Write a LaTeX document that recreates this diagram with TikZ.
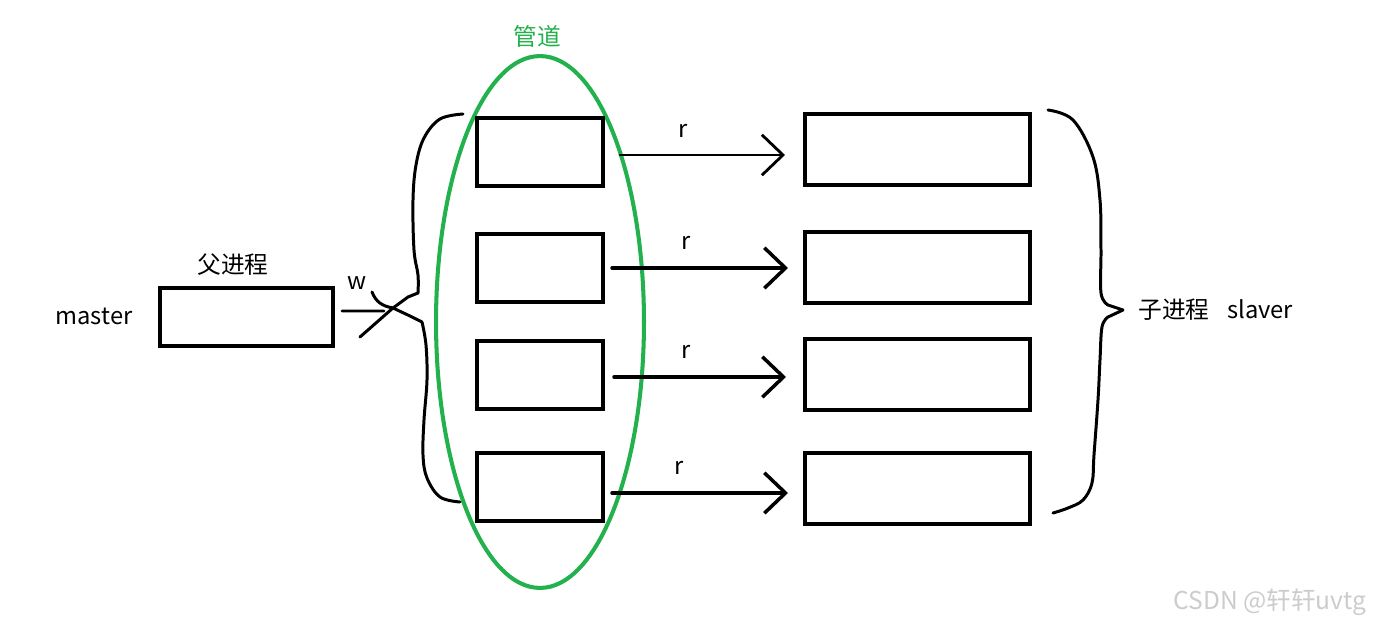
\documentclass[tikz,border=0pt]{standalone}
\usepackage{fontspec}
\setmainfont{Noto Sans CJK SC}
\usetikzlibrary{arrows.meta,shapes.geometric}

\definecolor{pipegreen}{RGB}{34,177,76}

\tikzset{
  box/.style={draw,line width=2.3pt,minimum width=2.52cm,minimum height=1.36cm,inner sep=0pt},
  wide/.style={box,minimum width=4.5cm,minimum height=1.42cm},
  hand/.style={line width=1.7pt,line cap=round,line join=round},
  rarrow/.style={hand,-{Straight Barb[length=12pt,width=23pt]}},
  lbl/.style={font=\fontsize{13.5}{16}\selectfont,inner sep=0pt}
}

\begin{document}
\begin{tikzpicture}[x=0.02cm,y=-0.02cm]
  \useasboundingbox (0,0) rectangle (1374,625);
  % parent side
  \node[box,minimum width=3.46cm,minimum height=1.16cm] (m) at (246.5,317) {};
  \node[lbl] (mname) at (94,316) {master};
  \node[lbl] (parent) at (233,265) {父进程};
  \node[lbl] (w) at (357,283) {w};
  % pipe
  \node[draw=pipegreen,ellipse,line width=2.3pt,minimum width=4.16cm,minimum height=10.64cm] (pipe) at (540,322) {};
  \node[lbl,text=pipegreen] (pipename) at (537,36) {管道};
  \node[box] (p1) at (540,152) {};
  \node[box] (p2) at (540,268) {};
  \node[box] (p3) at (540,375) {};
  \node[box] (p4) at (540,487) {};
  % children
  \node[wide] (c1) at (917.5,149.5) {};
  \node[wide] (c2) at (917.5,267.5) {};
  \node[wide] (c3) at (917.5,374.5) {};
  \node[wide] (c4) at (917.5,488.5) {};
  \foreach \i/\a/\b/\dy/\lw/\p in {1/0.3/0.36/0.06/1.6pt/0.38, 2/0.14/0.3/0/2pt/0.42, 3/0.18/0.34/0.04/2pt/0.42, 4/0.14/0.3/0.12/2pt/0.38}
    \draw[rarrow,line width=\lw] ([xshift=\a cm,yshift=-\dy cm]p\i.east) -- node[lbl,pos=\p,above=0.33cm] {r} ([xshift=-\b cm,yshift=-\dy cm]p\i.east -| c\i.west);
  % write end and left brace
  \coordinate (tip) at (393,308);
  \draw[hand] ([xshift=0.14cm,yshift=0.12cm]m.east) -- (384,311);
  \draw[hand] plot[smooth,tension=0.6] coordinates {(463,114) (440,119) (424,138) (416,165) (413,200) (414,250) (418,275) (418,293)}
    -- (408,297) -- (tip) -- (360,337);
  \draw[hand] (372,292) .. controls (376,302) and (382,306) .. (tip) -- (410,316) -- (422,322)
    plot[smooth,tension=0.6] coordinates {(422,322) (426,345) (427,380) (424,420) (423,455) (427,478) (440,497) (460,502)};
  % right brace
  \coordinate (rtip) at (1123,310);
  \draw[hand] plot[smooth,tension=0.6] coordinates {(1048,110) (1073,120) (1093,157) (1100,200) (1101,250) (1101,293) (1108,305)}
    -- (rtip) -- (1108,317)
    plot[smooth,tension=0.6] coordinates {(1108,317) (1102,327) (1100,360) (1098,400) (1094,455) (1092,483) (1083,500) (1068,508) (1053,513)};
  \node[lbl,anchor=west] (slaver) at (1138,310) {子进程\hspace{0.75em}slaver};
  \node[text=gray!40,font=\fontsize{14}{16}\selectfont,inner sep=0pt] (mark) at (1270,602) {CSDN @轩轩uvtg};
\end{tikzpicture}
\end{document}
